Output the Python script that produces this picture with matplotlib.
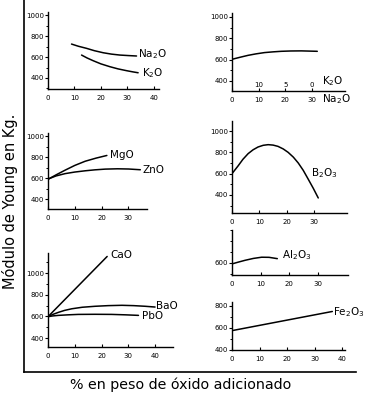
import matplotlib.pyplot as plt
from matplotlib.lines import Line2D
from matplotlib.ticker import MultipleLocator

# datos (modulo de Young vs % de oxido)
na2o_x = [8.9, 11.5, 14.6, 17.5, 20.9, 24, 27.2, 30.5, 33.5]
na2o_y = [724, 703, 683, 661, 641, 628, 619, 614, 610]
k2o_x = [12.7, 14.8, 17.1, 20, 23.4, 26.5, 29.7, 32, 34.1]
k2o_y = [619, 591, 565, 535, 508, 487, 470, 459, 450]

nak_x = [0, 3, 6, 9, 12.2, 15.5, 18.5, 22, 26, 32]
nak_y = [603, 622, 640, 654, 666, 673, 678, 681, 682, 678]
nak_top_ticks = [10, 20, 30]
nak_top_labels = ['10', '5', '0']

mgo_x = [0, 3, 6.4, 10, 13.9, 18, 22]
mgo_y = [588, 630, 675, 720, 760, 790, 815]
zno_x = [0, 3, 6.4, 10, 13.9, 17.5, 21.4, 26, 30.1, 34.5]
zno_y = [590, 620, 642, 657, 669, 678, 685, 688, 686, 679]

b2o3_x = [0, 2.2, 4, 5.9, 7.7, 9.5, 11.4, 13.2, 15, 16.8, 18.7, 20.5, 22.4, 24.2, 26, 27.8, 29.7, 31.5]
b2o3_y = [600, 672, 735, 788, 824, 850, 866, 872, 868, 856, 832, 800, 755, 700, 632, 550, 462, 372]

cao_x = [0, 22.1]
cao_y = [597, 1153]
bao_x = [0, 1.8, 3.9, 6.2, 8.9, 12.8, 17.6, 22.5, 27.6, 32, 36.3, 40]
bao_y = [597, 618, 637, 655, 670, 684, 693, 699, 702, 699, 693, 686]
pbo_x = [0, 1.8, 3.9, 7.5, 11.3, 17.5, 23.8, 29, 33.8]
pbo_y = [597, 604, 609, 614, 618, 619, 618, 614, 609]

al2o3_x = [0, 2.3, 4.6, 7.5, 10.4, 13, 15.9]
al2o3_y = [591, 608, 624, 641, 652, 651, 639]

fe2o3_x = [0, 36.4]
fe2o3_y = [576, 750]

W, H = 369, 400
fig = plt.figure(figsize=(W / 100, H / 100), dpi=100)
fig.patch.set_facecolor('white')


def panel(l, r, t, b, xlim, ylim, xt, yt):
    ax = fig.add_axes([l / W, 1 - b / H, (r - l) / W, (b - t) / H])
    ax.set_xlim(xlim)
    ax.set_ylim(ylim)
    ax.spines['top'].set_visible(False)
    ax.spines['right'].set_visible(False)
    ax.spines['left'].set_linewidth(1.0)
    ax.spines['bottom'].set_linewidth(1.0)
    ax.set_xticks(xt)
    ax.set_yticks(yt)
    ax.yaxis.set_minor_locator(MultipleLocator(100))
    ax.tick_params(axis='x', direction='in', length=2.5, width=0.8,
                   labelsize=5, pad=4.5)
    ax.tick_params(axis='y', direction='out', length=2, width=0.8,
                   labelsize=5, pad=1)
    ax.tick_params(axis='y', which='minor', direction='out', length=1.5,
                   width=0.7)
    ax.patch.set_alpha(0)
    return ax


def curva(ax, x, y):
    ax.plot(x, y, color='black', lw=1.1, solid_capstyle='round',
            solid_joinstyle='round')


def etiqueta(ax, x, y, s):
    ax.text(x, y, s, fontsize=7.5, ha='left', va='center', clip_on=False)


ticks_y = [400, 600, 800, 1000]

# Na2O / K2O
ax1 = panel(48, 159, 12, 89, (0, 42), (295, 1030), [0, 10, 20, 30, 40], ticks_y)
curva(ax1, na2o_x, na2o_y)
curva(ax1, k2o_x, k2o_y)
etiqueta(ax1, 34, 629, r'Na$_2$O')
etiqueta(ax1, 35.5, 450, r'K$_2$O')

# Na2O - K2O mixto
ax2 = panel(232, 345, 13, 91, (0, 42.4), (306, 1037), [0, 10, 20, 30], ticks_y)
curva(ax2, nak_x, nak_y)
for xv, s in zip(nak_top_ticks, nak_top_labels):
    ax2.text(xv, 365, s, fontsize=5, ha='center', va='center')
etiqueta(ax2, 33.7, 395, r'K$_2$O')
etiqueta(ax2, 33.7, 232, r'Na$_2$O')

# MgO / ZnO
ax3 = panel(48, 147, 133, 209, (0, 37), (305, 1029), [0, 10, 20, 30], ticks_y)
curva(ax3, mgo_x, mgo_y)
curva(ax3, zno_x, zno_y)
etiqueta(ax3, 23.2, 815, 'MgO')
etiqueta(ax3, 35.2, 672, 'ZnO')

# B2O3
ax4 = panel(232, 347, 121, 213, (0, 42), (231, 1094), [0, 10, 20, 30], ticks_y)
curva(ax4, b2o3_x, b2o3_y)
etiqueta(ax4, 29, 605, r'B$_2$O$_3$')

# CaO / BaO / PbO
ax5 = panel(48, 173, 253, 347, (0, 46.7), (317, 1185), [0, 10, 20, 30, 40], ticks_y)
curva(ax5, cao_x, cao_y)
curva(ax5, bao_x, bao_y)
curva(ax5, pbo_x, pbo_y)
etiqueta(ax5, 23.2, 1163, 'CaO')
etiqueta(ax5, 40.3, 695, 'BaO')
etiqueta(ax5, 35, 603, 'PbO')

# Al2O3
ax6 = panel(232, 348, 230, 275, (0, 40.7), (490, 900), [0, 10, 20, 30], [600])
curva(ax6, al2o3_x, al2o3_y)
etiqueta(ax6, 17.5, 673, r'Al$_2$O$_3$')

# Fe2O3
ax7 = panel(232, 345, 302, 350, (0, 41), (400, 836), [0, 10, 20, 30, 40], [400, 600, 800])
curva(ax7, fe2o3_x, fe2o3_y)
etiqueta(ax7, 36.7, 745, r'Fe$_2$O$_3$')

# marco exterior
fig.add_artist(Line2D([24 / W, 24 / W], [1, 1 - 372 / H], color='black', lw=1.2))
fig.add_artist(Line2D([24 / W, 356 / W], [1 - 372 / H, 1 - 372 / H], color='black', lw=1.2))

fig.text(10 / W, 1 - 201 / H, 'Módulo de Young en Kg.', rotation=90,
         ha='center', va='center', fontsize=10.5)
fig.text(181 / W, 1 - 385 / H, '% en peso de óxido adicionado',
         ha='center', va='center', fontsize=10.3)

fig.savefig('out.png', dpi=100, facecolor='white')
